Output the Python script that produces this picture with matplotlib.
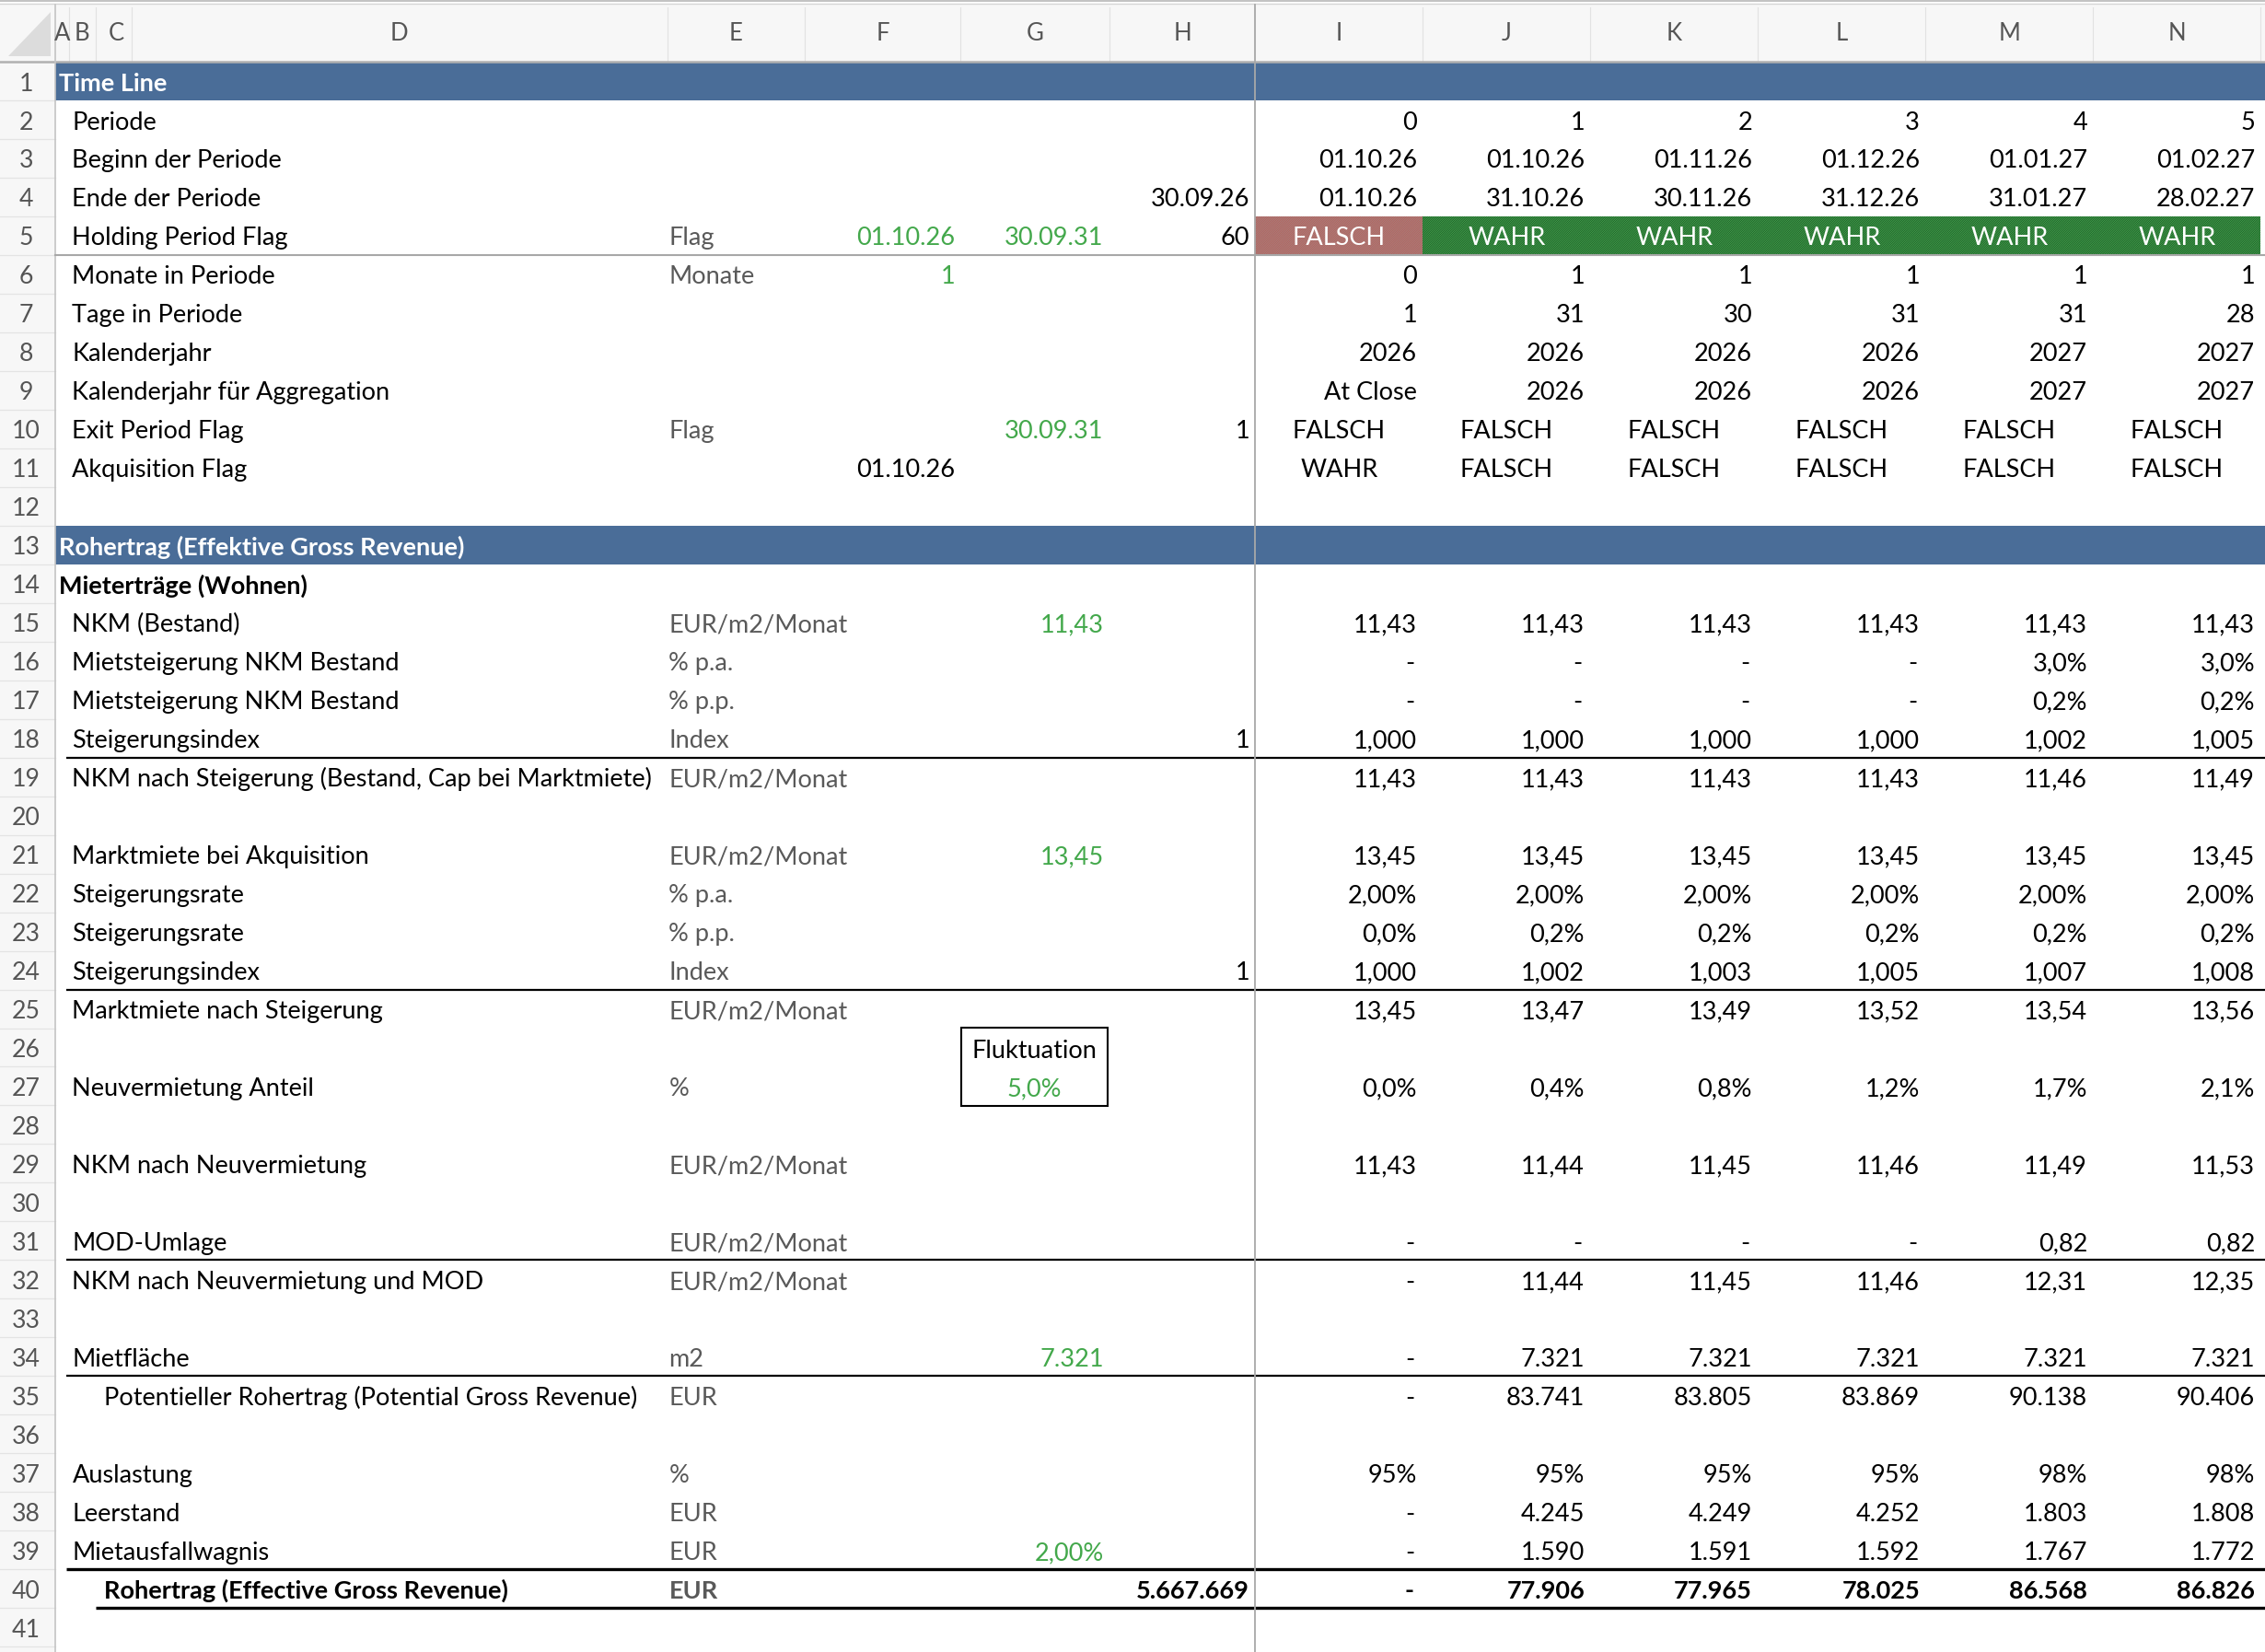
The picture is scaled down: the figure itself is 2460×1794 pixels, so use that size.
import matplotlib
matplotlib.use("Agg")
import matplotlib.pyplot as plt
from matplotlib.patches import Rectangle, Polygon

plt.rcParams['font.family'] = ['Lato', 'DejaVu Sans']
plt.rcParams['hatch.linewidth'] = 0.7

# ---------------- Daten (Perioden 0..5, Spalten I..N) ----------------
periode = [0, 1, 2, 3, 4, 5]
beginn = ['01.10.26', '01.10.26', '01.11.26', '01.12.26', '01.01.27', '01.02.27']
ende = ['01.10.26', '31.10.26', '30.11.26', '31.12.26', '31.01.27', '28.02.27']
holding_flag = ['FALSCH', 'WAHR', 'WAHR', 'WAHR', 'WAHR', 'WAHR']
monate = [0, 1, 1, 1, 1, 1]
tage = [1, 31, 30, 31, 31, 28]
kalenderjahr = [2026, 2026, 2026, 2026, 2027, 2027]
jahr_aggregation = ['At Close', '2026', '2026', '2026', '2027', '2027']
exit_flag = ['FALSCH', 'FALSCH', 'FALSCH', 'FALSCH', 'FALSCH', 'FALSCH']
akquisition_flag = ['WAHR', 'FALSCH', 'FALSCH', 'FALSCH', 'FALSCH', 'FALSCH']

nkm_bestand = [11.43, 11.43, 11.43, 11.43, 11.43, 11.43]
mietsteig_pa = [None, None, None, None, 3.0, 3.0]
mietsteig_pp = [None, None, None, None, 0.2, 0.2]
steig_index = [1.000, 1.000, 1.000, 1.000, 1.002, 1.005]
nkm_steigerung = [11.43, 11.43, 11.43, 11.43, 11.46, 11.49]
marktmiete = [13.45, 13.45, 13.45, 13.45, 13.45, 13.45]
steig_rate_pa = [2.00, 2.00, 2.00, 2.00, 2.00, 2.00]
steig_rate_pp = [0.0, 0.2, 0.2, 0.2, 0.2, 0.2]
markt_index = [1.000, 1.002, 1.003, 1.005, 1.007, 1.008]
marktmiete_steig = [13.45, 13.47, 13.49, 13.52, 13.54, 13.56]
neuverm_anteil = [0.0, 0.4, 0.8, 1.2, 1.7, 2.1]
nkm_neuverm = [11.43, 11.44, 11.45, 11.46, 11.49, 11.53]
mod_umlage = [None, None, None, None, 0.82, 0.82]
nkm_neuverm_mod = [None, 11.44, 11.45, 11.46, 12.31, 12.35]
mietflaeche = [None, 7321, 7321, 7321, 7321, 7321]
pot_rohertrag = [None, 83741, 83805, 83869, 90138, 90406]
auslastung = [95, 95, 95, 95, 98, 98]
leerstand = [None, 4245, 4249, 4252, 1803, 1808]
mietausfall = [None, 1590, 1591, 1592, 1767, 1772]
eff_rohertrag = [None, 77906, 77965, 78025, 86568, 86826]

col_letters = ['A', 'B', 'C', 'D', 'E', 'F', 'G', 'H', 'I', 'J', 'K', 'L', 'M', 'N']


def de(v, nd=0):
    """Zahl im deutschen Format, None -> '-'"""
    if v is None:
        return '-'
    s = f"{v:,.{nd}f}"
    return s.replace(',', '#').replace('.', ',').replace('#', '.')


def pct(v, nd=1):
    return '-' if v is None else de(v, nd) + '%'


# ---------------- Layout (Einheiten = Bildpunkte der Vorlage / 1.569) ----------------
W, H = 1568, 1143
S = 2460 / W
ROW0, RH = 42.6, 26.75
edges = [38, 48, 66, 91, 462, 557, 665, 768, 869, 985, 1101, 1217, 1333, 1449, 1565, 1681]
FREEZE_X = 869

BLUE = '#4a6d98'
GREEN = '#43a84b'
GRAY = '#595959'


def top(r):
    return ROW0 + (r - 1) * RH


def base(r):
    return top(r) + RH / 2 + 6.8


fig = plt.figure(figsize=(24.6, 17.94), dpi=100)
ax = fig.add_axes([0, 0, 1, 1])
ax.set_xlim(0, W)
ax.set_ylim(H, 0)
ax.axis('off')

# Schriftgröße an die Breite eines langen Labels anpassen
fig.canvas.draw()
rend = fig.canvas.get_renderer()
probe = ax.text(0, 0, 'NKM nach Steigerung (Bestand, Cap bei Marktmiete)', fontsize=20)
FS = 20 * 403 * S / probe.get_window_extent(rend).width
probe.remove()


def txt(x, r, s, ha='left', color='black', bold=False, size=None):
    ax.text(x, base(r), s, ha=ha, va='baseline', color=color,
            fontsize=size or FS, fontweight='bold' if bold else 'normal', zorder=5)


# Spaltenkopf
ax.add_patch(Rectangle((0, 3), W, 39.5, facecolor='#f7f7f7', edgecolor='none', zorder=1))
ax.plot([0, W], [0.8, 0.8], color='#b8b8b8', lw=1.2, zorder=2)
ax.plot([0, W], [2.6, 2.6], color='#d6d6d6', lw=1.0, zorder=2)
ax.plot([0, W], [42.4, 42.4], color='#b0b0b0', lw=1.8, zorder=3)
ax.add_patch(Polygon([[6, 39], [35, 39], [35, 8]], closed=True, facecolor='#dcdcdc',
                     edgecolor='none', zorder=2))
for i, c in enumerate(col_letters):
    x0, x1 = edges[i], edges[i + 1]
    ax.plot([x1, x1], [5, 42], color='#e2e2e2', lw=0.8, zorder=2)
    ax.text((x0 + x1) / 2 + (2 if c == 'C' else 0), 23, c, ha='center', va='center',
            color='#555555', fontsize=FS * 0.95, zorder=5)

# Zeilenkopf
ax.add_patch(Rectangle((0, ROW0), 38, H - ROW0, facecolor='#f7f7f7', edgecolor='none', zorder=1))
for r in range(1, 42):
    ax.plot([0, 38], [top(r) + RH, top(r) + RH], color='#e4e4e4', lw=0.9, zorder=2)
    ax.text(18, base(r), str(r), ha='center', va='baseline', color='#555555',
            fontsize=FS * 0.98, zorder=5)
ax.plot([38, 38], [3, H], color='#c4c4c4', lw=1.2, zorder=3)

# Blaue Abschnittsbalken
for r, title in [(1, 'Time Line'), (13, 'Rohertrag (Effektive Gross Revenue)')]:
    ax.add_patch(Rectangle((38, top(r)), W - 38, RH, facecolor=BLUE, edgecolor='none', zorder=2))
    ax.text(41, base(r), title, ha='left', va='baseline', color='white',
            fontsize=FS, fontweight='bold', zorder=5)

# Holding Period Flag mit Schraffur
for k, flag in enumerate(holding_flag):
    x0 = edges[8 + k]
    if flag == 'WAHR':
        fc, hc = '#46ad52', '#22602a'
    else:
        fc, hc = '#c9544e', '#9a8684'
    ax.add_patch(Rectangle((x0, top(5)), 116, RH, facecolor=fc, edgecolor=hc, lw=0,
                           hatch='/' * 14, zorder=2))
    txt(x0 + 58, 5, flag, ha='center', color='white')

# Zeilenbeschriftungen: (Zeile, Text, x, fett, Einheit)
labels = [
    (2, 'Periode', 50, False, ''),
    (3, 'Beginn der Periode', 50, False, ''),
    (4, 'Ende der Periode', 50, False, ''),
    (5, 'Holding Period Flag', 50, False, 'Flag'),
    (6, 'Monate in Periode', 50, False, 'Monate'),
    (7, 'Tage in Periode', 50, False, ''),
    (8, 'Kalenderjahr', 50, False, ''),
    (9, 'Kalenderjahr für Aggregation', 50, False, ''),
    (10, 'Exit Period Flag', 50, False, 'Flag'),
    (11, 'Akquisition Flag', 50, False, ''),
    (14, 'Mieterträge (Wohnen)', 41, True, ''),
    (15, 'NKM (Bestand)', 50, False, 'EUR/m2/Monat'),
    (16, 'Mietsteigerung NKM Bestand', 50, False, '% p.a.'),
    (17, 'Mietsteigerung NKM Bestand', 50, False, '% p.p.'),
    (18, 'Steigerungsindex', 50, False, 'Index'),
    (19, 'NKM nach Steigerung (Bestand, Cap bei Marktmiete)', 50, False, 'EUR/m2/Monat'),
    (21, 'Marktmiete bei Akquisition', 50, False, 'EUR/m2/Monat'),
    (22, 'Steigerungsrate', 50, False, '% p.a.'),
    (23, 'Steigerungsrate', 50, False, '% p.p.'),
    (24, 'Steigerungsindex', 50, False, 'Index'),
    (25, 'Marktmiete nach Steigerung', 50, False, 'EUR/m2/Monat'),
    (27, 'Neuvermietung Anteil', 50, False, '%'),
    (29, 'NKM nach Neuvermietung', 50, False, 'EUR/m2/Monat'),
    (31, 'MOD-Umlage', 50, False, 'EUR/m2/Monat'),
    (32, 'NKM nach Neuvermietung und MOD', 50, False, 'EUR/m2/Monat'),
    (34, 'Mietfläche', 50, False, 'm2'),
    (35, 'Potentieller Rohertrag (Potential Gross Revenue)', 72, False, 'EUR'),
    (37, 'Auslastung', 50, False, '%'),
    (38, 'Leerstand', 50, False, 'EUR'),
    (39, 'Mietausfallwagnis', 50, False, 'EUR'),
    (40, 'Rohertrag (Effective Gross Revenue)', 72, True, 'EUR'),
]
for r, lab, x, b, unit in labels:
    txt(x, r, lab, bold=b)
    if unit:
        txt(463, r, unit, color=GRAY, bold=b)

# Eingaben in F, G, H: (Zeile, Spalte, Text, Farbe, fett)
inputs = [
    (4, 'H', '30.09.26', 'black', False),
    (5, 'F', '01.10.26', GREEN, False),
    (5, 'G', '30.09.31', GREEN, False),
    (5, 'H', '60', 'black', False),
    (6, 'F', '1', GREEN, False),
    (10, 'G', '30.09.31', GREEN, False),
    (10, 'H', '1', 'black', False),
    (11, 'F', '01.10.26', 'black', False),
    (15, 'G', de(11.43, 2), GREEN, False),
    (18, 'H', '1', 'black', False),
    (21, 'G', de(13.45, 2), GREEN, False),
    (24, 'H', '1', 'black', False),
    (34, 'G', de(7321), GREEN, False),
    (39, 'G', pct(2.00, 2), GREEN, False),
    (40, 'H', de(5667669), 'black', True),
]
for r, c, s, color, b in inputs:
    i = col_letters.index(c)
    txt(edges[i + 1] - 4, r, s, ha='right', color=color, bold=b)

# Fluktuation-Box
ax.add_patch(Rectangle((665.5, 711), 101.5, 54, facecolor='none', edgecolor='black',
                       lw=1.5, zorder=4))
ax.text(716, base(26) + 0.5, 'Fluktuation', ha='center', va='baseline', fontsize=FS, zorder=5)
ax.text(716, base(27), pct(5.0, 1), ha='center', va='baseline', color=GREEN, fontsize=FS, zorder=5)

# Periodenwerte, rechtsbündig
series = [
    (2, [str(v) for v in periode], False),
    (3, beginn, False),
    (4, ende, False),
    (6, [str(v) for v in monate], False),
    (7, [str(v) for v in tage], False),
    (8, [str(v) for v in kalenderjahr], False),
    (9, jahr_aggregation, False),
    (15, [de(v, 2) for v in nkm_bestand], False),
    (16, [pct(v, 1) for v in mietsteig_pa], False),
    (17, [pct(v, 1) for v in mietsteig_pp], False),
    (18, [de(v, 3) for v in steig_index], False),
    (19, [de(v, 2) for v in nkm_steigerung], False),
    (21, [de(v, 2) for v in marktmiete], False),
    (22, [pct(v, 2) for v in steig_rate_pa], False),
    (23, [pct(v, 1) for v in steig_rate_pp], False),
    (24, [de(v, 3) for v in markt_index], False),
    (25, [de(v, 2) for v in marktmiete_steig], False),
    (27, [pct(v, 1) for v in neuverm_anteil], False),
    (29, [de(v, 2) for v in nkm_neuverm], False),
    (31, [de(v, 2) for v in mod_umlage], False),
    (32, [de(v, 2) for v in nkm_neuverm_mod], False),
    (34, [de(v) for v in mietflaeche], False),
    (35, [de(v) for v in pot_rohertrag], False),
    (37, [pct(v, 0) for v in auslastung], False),
    (38, [de(v) for v in leerstand], False),
    (39, [de(v) for v in mietausfall], False),
    (40, [de(v) for v in eff_rohertrag], True),
]
for r, vals, b in series:
    for k, s in enumerate(vals):
        x1 = edges[9 + k]
        txt(x1 - (6 if s == '-' else 4), r, s, ha='right', bold=b)

# Flags zentriert
for r, vals in [(10, exit_flag), (11, akquisition_flag)]:
    for k, s in enumerate(vals):
        txt(edges[8 + k] + 58, r, s, ha='center')

# Summenlinien
for r, x0, lw in [(18, 46, 1.6), (24, 46, 1.6), (31, 46, 1.6), (34, 46, 1.6),
                  (39, 46, 2.4), (40, 66, 2.4)]:
    y = top(r) + RH
    ax.plot([x0, W], [y, y], color='black', lw=lw, zorder=4, solid_capstyle='butt')

# Fixierungslinien
ax.plot([FREEZE_X, FREEZE_X], [3, H], color='#a8a8a8', lw=1.3, zorder=6)
ax.plot([38, W], [top(5) + RH, top(5) + RH], color='#a8a8a8', lw=1.5, zorder=6)

fig.savefig('out.png', dpi=100)
